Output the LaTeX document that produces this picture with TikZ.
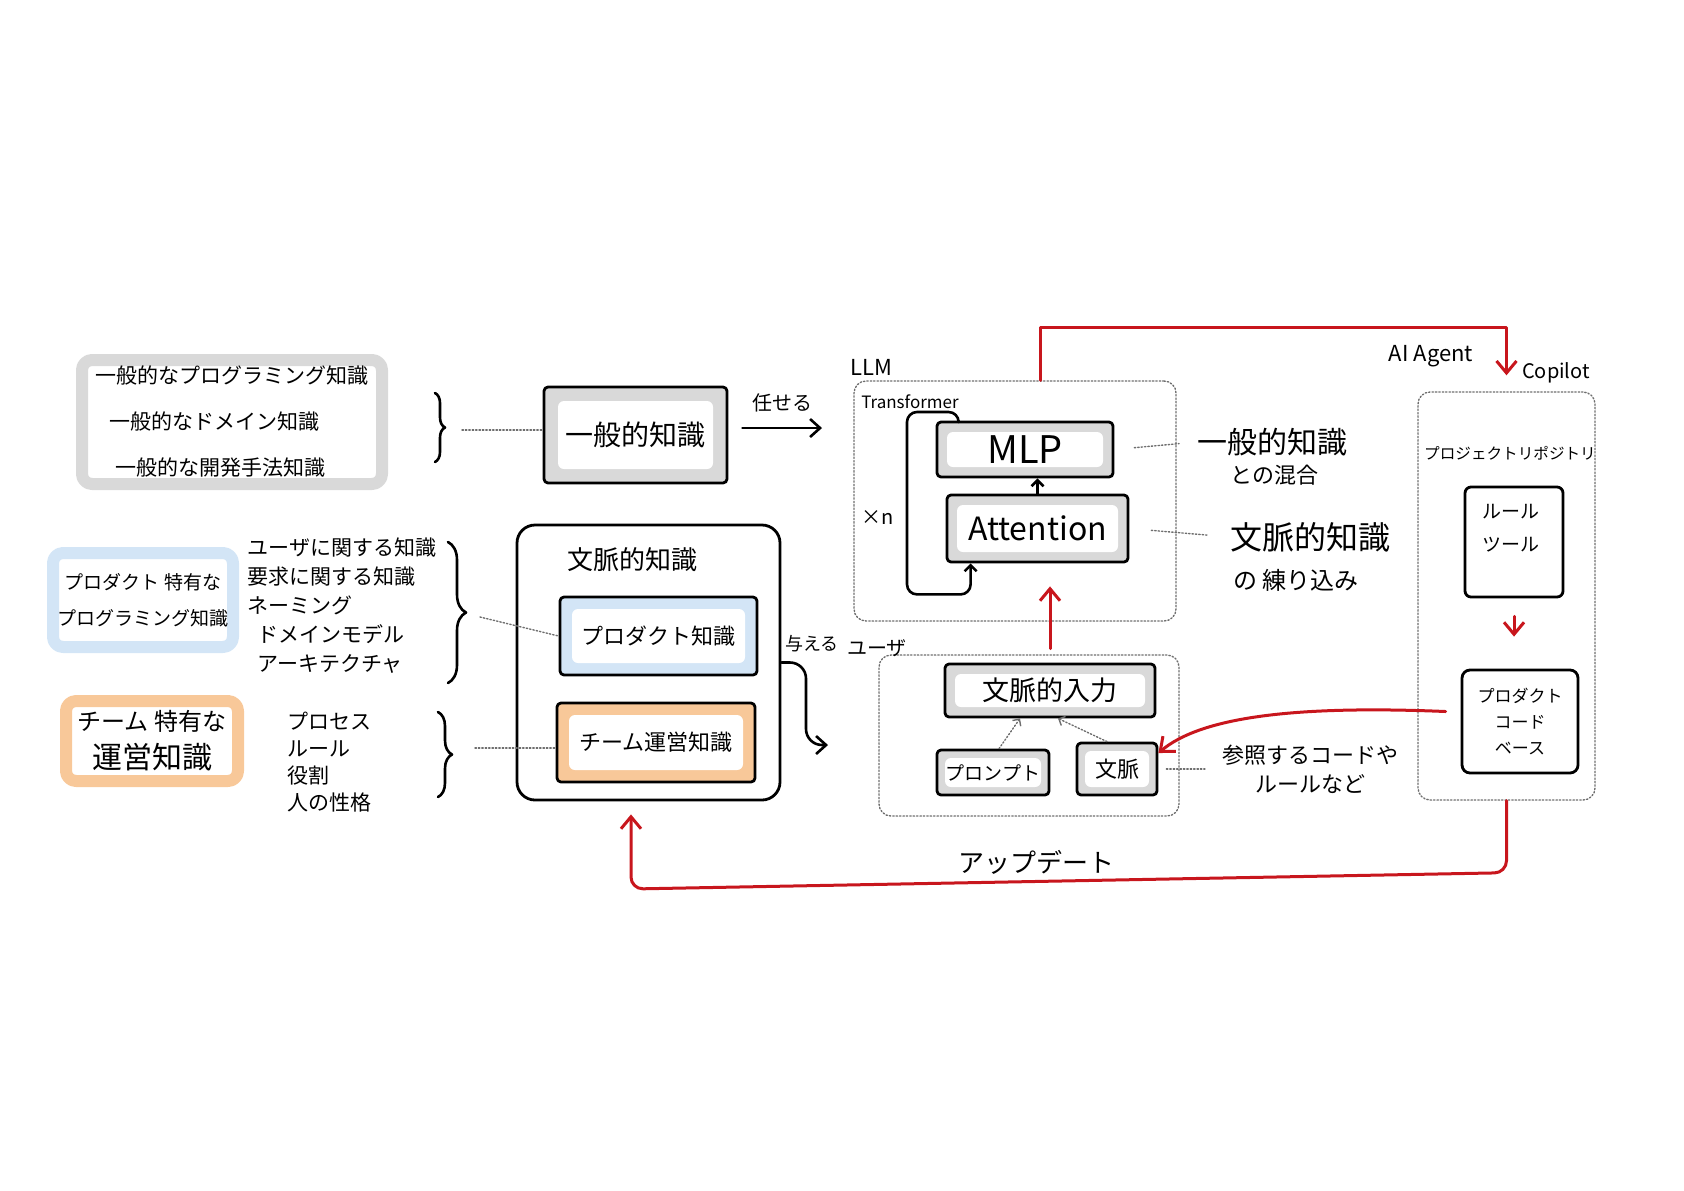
\documentclass[tikz,border=0pt]{standalone}
\usepackage{fontspec}
\setmainfont{Noto Sans CJK JP}
\usepackage{tikz}
\usetikzlibrary{arrows.meta,decorations.pathreplacing}
\definecolor{GrayHi}{HTML}{D9D9D9}
\definecolor{BlueHi}{HTML}{D3E5F6}
\definecolor{OrangeHi}{HTML}{F8C899}
\definecolor{InkRed}{HTML}{C8161D}
\definecolor{Dots}{HTML}{6E6E6E}
\newcommand{\fsz}[2]{\fontsize{#1}{#2}\selectfont}
\tikzset{
  hlinset/.store in=\hlinset, hlinset=6pt,
  hlbox/.style={draw=#1,line width=6pt,fill=white,rounded corners=5pt,inner sep=0pt,align=center},
  kbox/.style={draw,line width=1.4pt,fill=#1,rounded corners=2pt,inner sep=0pt,align=center,
    path picture={\fill[white,rounded corners=3pt]
      ([shift={(\hlinset,-\hlinset)}]path picture bounding box.north west) rectangle
      ([shift={(-\hlinset,\hlinset)}]path picture bounding box.south east);}},
  pbox/.style={draw,line width=1.4pt,rounded corners=#1,inner sep=0pt,align=center},
  dotframe/.style={draw=Dots,densely dotted,line width=0.7pt,rounded corners=6pt,inner sep=0pt},
  guide/.style={draw=Dots,densely dotted,line width=0.7pt},
  inkarr/.style={line width=1.3pt,-{Straight Barb[length=5pt,width=9pt]}},
  redarr/.style={draw=InkRed,line width=1.5pt,-{Straight Barb[length=6pt,width=10pt]}},
  curly/.style={decorate,decoration={brace,amplitude=#1},line width=1.3pt},
  lbl/.style={inner sep=0pt,align=left}
}

\begin{document}
\begin{tikzpicture}[x=0.5pt,y=-0.5pt,line cap=round,line join=round]
  \useasboundingbox (0,0) rectangle (1684,1190);
  % kinds of knowledge
  \node[hlbox=GrayHi,align=left,minimum width=150pt,minimum height=62pt,font=\fsz{10.5}{23}] (genlist) at (232,422)
    {一般的なプログラミング知識\\\hspace*{7pt}一般的なドメイン知識\\\hspace*{10pt}一般的な開発手法知識};
  \node[hlbox=BlueHi,minimum width=90pt,minimum height=47pt,font=\fsz{9.5}{18}] (prodlist) at (143,600)
    {プロダクト 特有な\\プログラミング知識};
  \node[hlbox=OrangeHi,minimum width=86pt,minimum height=40pt,font=\fsz{12}{19}] (teamlist) at (152,741)
    {チーム 特有な\\{\fsz{15}{19}運営知識}};
  \node[lbl,anchor=north west,font=\fsz{10.5}{14.5}] (ulist) at (247,537)
    {ユーザに関する知識\\要求に関する知識\\ネーミング\\\hspace*{5pt}ドメインモデル\\\hspace*{5pt}アーキテクチャ};
  \node[lbl,anchor=north west,font=\fsz{10.5}{13.5}] (plist) at (287,712)
    {プロセス\\ルール\\役割\\人の性格};
  \draw[curly=5pt] (435,393) -- (435,462);
  \draw[curly=9pt] (448,542) -- (448,683);
  \draw[curly=7pt] (438,712) -- (438,797);
  \coordinate (b1) at (462,430);
  \coordinate (b2) at (480,617);
  \coordinate (b3) at (475,748);

  % general and contextual knowledge
  \node[kbox=GrayHi,hlinset=7pt,minimum width=91.5pt,minimum height=48pt,font=\fsz{14}{16}] (gen) at (635.5,435) {一般的知識};
  \node[pbox=9pt,minimum width=131.5pt,minimum height=137.5pt] (ctx) at (648.5,662.5) {};
  \node[font=\fsz{13}{15}] (ctxtitle) at (632,560) {文脈的知識};
  \node[kbox=BlueHi,minimum width=98.5pt,minimum height=39pt,font=\fsz{11}{13}] (prod) at (658.5,636) {プロダクト知識};
  \node[kbox=OrangeHi,minimum width=99pt,minimum height=39.5pt,font=\fsz{11}{13}] (team) at (656,742.5) {チーム運営知識};
  \draw[guide] (b1) -- (gen.west |- b1);
  \draw[guide] (b2) -- (prod.west);
  \draw[guide] (b3) -- (team.west |- b3);
  \coordinate (llmin) at (822,428);
  \coordinate (llmout) at (828,745);
  \draw[inkarr] ([xshift=7pt]gen.east |- llmin) -- (llmin) node[midway,above=4pt,font=\fsz{10}{12}] {任せる};
  \draw[inkarr,rounded corners=8pt] (ctx.east) -- (806,662.5) -- (806,745) -- (llmout);
  \node[font=\fsz{9}{11}] (givelbl) at (812,644) {与える};

  % LLM
  \node[dotframe,minimum width=161pt,minimum height=120pt] (llm) at (1015,501) {};
  \node[font=\fsz{11}{13}] (llmlbl) at (871,367) {LLM};
  \node[font=\fsz{8.5}{10}] (trlbl) at (910,402) {Transformer};
  \node[kbox=GrayHi,hlinset=5pt,minimum width=88pt,minimum height=27.5pt,font=\fsz{19}{21}] (mlp) at (1025,449.5) {MLP};
  \node[kbox=GrayHi,hlinset=5pt,minimum width=90.5pt,minimum height=33.5pt,font=\fsz{16}{18}] (att) at (1037.5,528.5) {Attention};
  \draw[line width=1.3pt,-{Straight Barb[length=3pt,width=6pt]}] (att.north) -- (att.north |- mlp.south);
  \draw[line width=1.3pt,rounded corners=5pt,-{Straight Barb[length=3pt,width=6pt]}]
    ([xshift=11.5pt]mlp.north west) |- (907,412) |- ([xshift=12.5pt,yshift=-15.5pt]att.south west) -- ([xshift=12.5pt]att.south west);
  \node[font=\fsz{10}{12}] (times) at (878,518) {×n};
  \node[lbl,anchor=west,font=\fsz{15}{17}] (mixA) at (1197,442) {一般的知識};
  \node[lbl,anchor=west,font=\fsz{11}{13}] (mixB) at (1230,475) {との混合};
  \node[lbl,anchor=west,font=\fsz{16}{18}] (foldA) at (1230,537) {文脈的知識};
  \node[lbl,anchor=west,font=\fsz{12}{14}] (foldB) at (1233,580) {の 練り込み};
  \draw[guide,shorten <=10pt,shorten >=9pt] (mlp.east) -- (mixA.west);
  \draw[guide,shorten <=11pt,shorten >=11pt] (att.east) -- (foldA.west);

  % project repository
  \node[dotframe,minimum width=88.5pt,minimum height=204pt] (repo) at (1506.5,596) {};
  \draw[redarr] ([xshift=12.5pt]llm.north) -- ++(0,-53) -| ([yshift=8pt]repo.north);
  \node[font=\fsz{11}{13}] (agentlbl) at (1431,356) {AI Agent};
  \node[font=\fsz{10}{12}] (coplbl) at (1556,373) {Copilot};
  \node[font=\fsz{7.8}{9}] (repolbl) at (1510,453) {プロジェクトリポジトリ};
  \node[pbox=3pt,minimum width=49pt,minimum height=55pt] (rules) at (1514,542) {};
  \node[lbl,align=center,font=\fsz{9.5}{16.5}] (rulestxt) at (1511,528) {ルール\\ツール};
  \node[pbox=4pt,minimum width=58pt,minimum height=51.5pt,font=\fsz{8.5}{13}] (code) at (1520,721.5) {プロダクト\\コード\\ベース};
  \draw[redarr,shorten <=9pt,shorten >=16pt] (rules.south) -- (rules.south |- code.north);

  % user
  \node[dotframe,minimum width=150pt,minimum height=80.5pt] (user) at (1029,735.5) {};
  \node[font=\fsz{10}{12}] (userlbl) at (877,648) {ユーザ};
  \node[kbox=GrayHi,hlinset=5pt,minimum width=105pt,minimum height=26.5pt,font=\fsz{13.5}{15}] (cin) at (1050,690.5) {文脈的入力};
  \node[kbox=GrayHi,hlinset=4pt,minimum width=56pt,minimum height=22.5pt,font=\fsz{9.5}{11}] (prm) at (993,772.5) {プロンプト};
  \node[kbox=GrayHi,hlinset=4pt,minimum width=40pt,minimum height=26pt,font=\fsz{11}{13}] (ctxin) at (1117,769) {文脈};
  \draw[guide,-{Straight Barb[length=2.5pt,width=5pt]}] ([xshift=3pt]prm.north) -- ([xshift=-15pt]cin.south);
  \draw[guide,-{Straight Barb[length=2.5pt,width=5pt]}] ([xshift=-5pt]ctxin.north) -- ([xshift=4pt]cin.south);
  \draw[redarr,shorten >=11.5pt] ([yshift=7pt]cin.north) -- (cin.north |- att.south);
  \node[align=center,font=\fsz{11}{14.5}] (refnote) at (1310,769) {参照するコードや\\ルールなど};
  \draw[guide,shorten <=4pt,shorten >=5pt] (ctxin.east) -- (refnote.west);
  \draw[redarr] ([xshift=-7.5pt,yshift=5pt]code.west) .. controls (1290,705) and (1200,718) .. ([yshift=8pt]ctxin.east);

  % update loop
  \draw[redarr,rounded corners=6pt] (repo.south) -- ++(0,72) -- (631,889) -- ([xshift=-8.75pt,yshift=-6.5pt]ctx.south);
  \node[font=\fsz{13}{15}] (updlbl) at (1036,862) {アップデート};
\end{tikzpicture}
\end{document}
